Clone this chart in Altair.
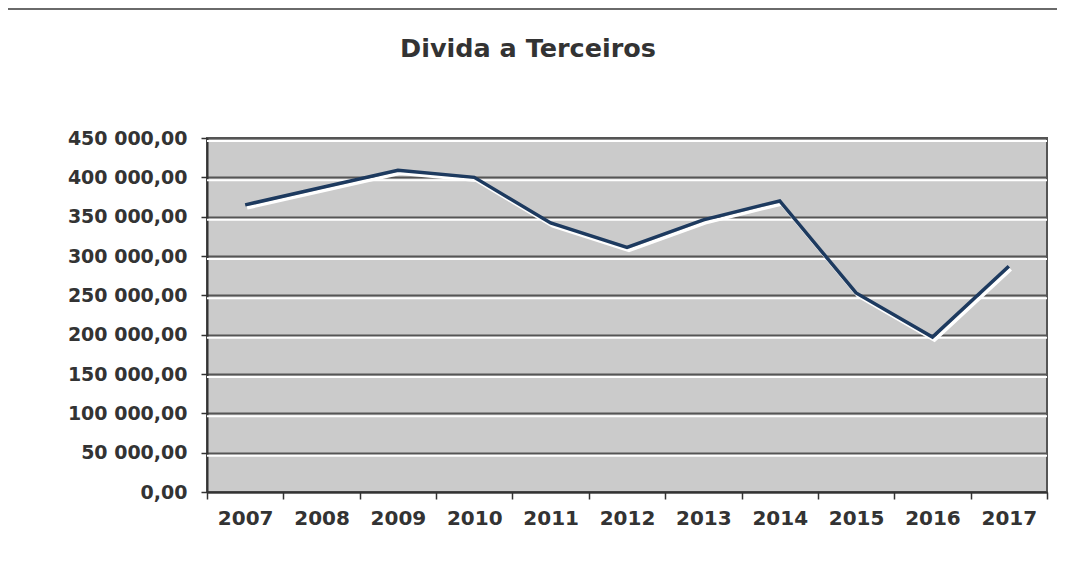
import altair as alt
import pandas as pd

years = ["2007", "2008", "2009", "2010", "2011", "2012", "2013", "2014", "2015", "2016", "2017"]
values = [365000, 387000, 409000, 400000, 342000, 311000, 346000, 370000, 253000, 197000, 287000]
y_ticks = [0, 50000, 100000, 150000, 200000, 250000, 300000, 350000, 400000, 450000]
title_text = "Divida a Terceiros"

df = pd.DataFrame({"ano": years, "valor": values})
grid_df = pd.DataFrame({"valor": y_ticks[1:]})

FONT = "DejaVu Sans"
label_expr = "replace(replace(format(datum.value, ',.2f'), ',', ' '), '.', ',')"

x_enc = alt.X(
    "ano:O",
    sort=years,
    bandPosition=0.5,
    scale=alt.Scale(type="band", paddingInner=0, paddingOuter=0),
    axis=alt.Axis(
        title=None, labelAngle=0, tickBand="extent", tickSize=7, tickColor="#333333",
        tickWidth=1.5, domainColor="#333333", domainWidth=2, labelFont=FONT,
        labelFontSize=20, labelFontWeight="bold", labelColor="#333333", labelPadding=9,
        grid=False,
    ),
)
y_scale = alt.Scale(domain=[0, 450000], nice=False, zero=True)
y_axis = alt.Axis(
    title=None, values=y_ticks, labelExpr=label_expr, tickSize=6, tickColor="#333333",
    tickWidth=1.5, domainColor="#333333", domainWidth=2, labelFont=FONT,
    labelFontSize=19, labelFontWeight="bold", labelColor="#333333", labelPadding=14,
    grid=True, gridColor="#555555", gridWidth=2,
)
y_enc = alt.Y("valor:Q", scale=y_scale, axis=y_axis)

base = alt.Chart(df)

grid_hi = alt.Chart(grid_df).mark_rule(color="white", strokeWidth=2, yOffset=3).encode(y=y_enc)

shadow = base.mark_line(color="white", strokeWidth=3.5, xOffset=2, yOffset=3).encode(
    x=x_enc, y=y_enc
)
line = base.mark_line(color="#1d3a5f", strokeWidth=3.5).encode(x=x_enc, y=y_enc)

one = pd.DataFrame({"k": [0]})
frame_top = alt.Chart(one).mark_rule(color="#6a6a6a", strokeWidth=2).encode(
    x=alt.value(-199), x2=alt.value(850), y=alt.value(-129)
)
title = alt.Chart(one).mark_text(
    text=title_text, font=FONT, fontSize=25.5, fontWeight="bold", color="#333333",
    align="center", baseline="alphabetic",
).encode(x=alt.value(321), y=alt.value(-81))

chart = (
    alt.layer(grid_hi, shadow, line, frame_top, title)
    .properties(
        width=840,
        height=354,
        autosize=alt.AutoSizeParams(type="none"),
        padding={"left": 199, "top": 130, "right": 14, "bottom": 72},
    )
    .configure(background="white")
    .configure_view(fill="#cbcbcb", stroke="#555555", strokeWidth=2)
)

chart.save("out.html", embed_options={"renderer": "svg", "actions": False})
